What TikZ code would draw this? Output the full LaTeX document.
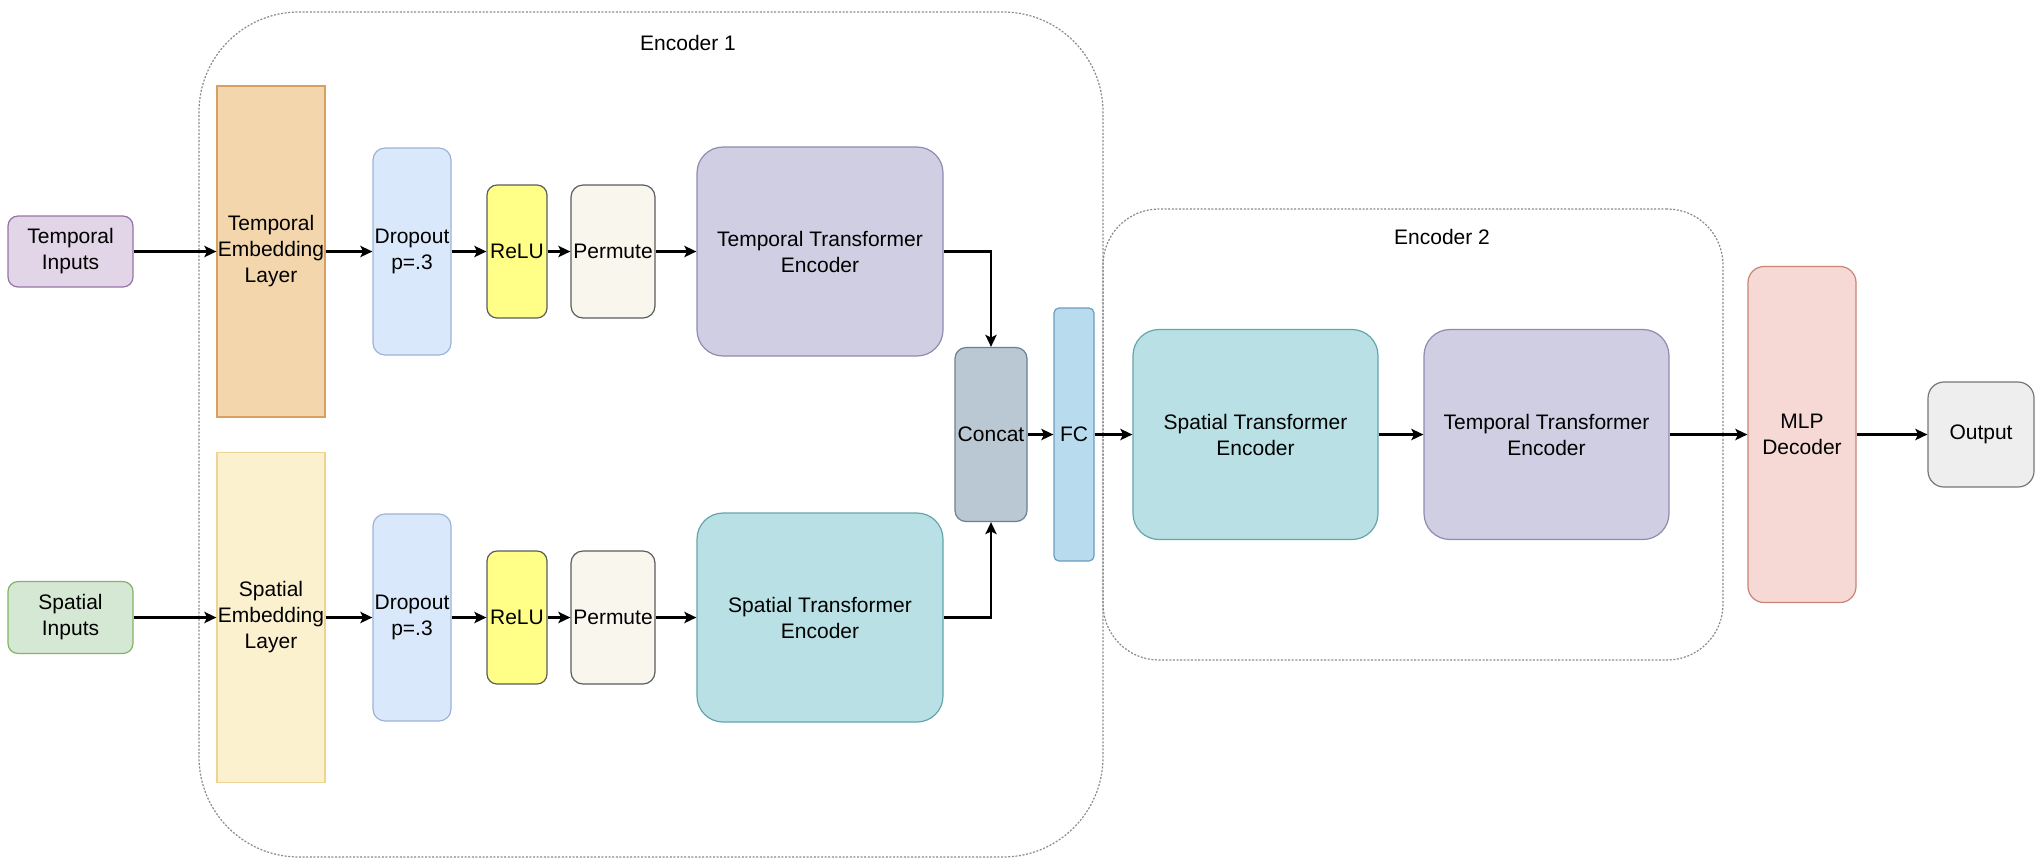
\documentclass[tikz,border=0pt]{standalone}
\usepackage{fontspec}
\setmainfont{Liberation Sans}
\usetikzlibrary{arrows.meta}
\definecolor{tinF}{HTML}{E1D5E7}\definecolor{tinD}{HTML}{9673A6}
\definecolor{sinF}{HTML}{D5E8D4}\definecolor{sinD}{HTML}{82B366}
\definecolor{tembF}{HTML}{F3D6AB}\definecolor{tembD}{HTML}{D5A060}
\definecolor{sembF}{HTML}{FCF1CF}\definecolor{sembD}{HTML}{EDD490}
\definecolor{dropF}{HTML}{DAE8FC}\definecolor{dropD}{HTML}{9DB3D6}
\definecolor{reluF}{HTML}{FFFF88}\definecolor{darkD}{HTML}{5A5C5F}
\definecolor{permF}{HTML}{F9F7ED}
\definecolor{ttfF}{HTML}{D0CEE2}\definecolor{ttfD}{HTML}{8F8BB0}
\definecolor{stfF}{HTML}{B9E1E5}\definecolor{stfD}{HTML}{62A6AC}
\definecolor{catF}{HTML}{BAC8D3}\definecolor{catD}{HTML}{6A8090}
\definecolor{fcF}{HTML}{B8DCEE}\definecolor{fcD}{HTML}{6A9DBD}
\definecolor{mlpF}{HTML}{F6D9D5}\definecolor{mlpD}{HTML}{C98478}
\definecolor{outF}{HTML}{EEEEEE}\definecolor{outD}{HTML}{777777}
\definecolor{contD}{HTML}{8A8A8A}
\tikzset{
  box/.style={draw, line width=0.6pt, inner sep=0pt, align=center,
    font=\fontsize{10.5}{13}\selectfont},
  container/.style={draw=contD, line width=0.6pt, dash pattern=on 1pt off 0.8pt,
    inner sep=0pt},
  lbl/.style={inner sep=0pt, font=\fontsize{10.5}{13}\selectfont},
  arr/.style={line width=1.25pt, -{Stealth[length=6pt,width=5.6pt,inset=1.3pt]}},
}
\begin{document}
\begin{tikzpicture}[x=0.5pt,y=-0.5pt]
\useasboundingbox (0,0) rectangle (2039,864);
% containers
\node[container, rounded corners=50pt, minimum width=452pt, minimum height=422.5pt] (enc1) at (651,434.5) {};
\node[container, rounded corners=28pt, minimum width=310pt, minimum height=225.5pt] (enc2) at (1413,434.5) {};
\node[lbl] (enc1l) at (688,43) {Encoder 1};
\node[lbl] (enc2l) at (1442,237) {Encoder 2};
% inputs
\node[box, fill=tinF, draw=tinD, rounded corners=5pt, minimum width=62.5pt, minimum height=35.5pt] (tin) at (70.5,251.5) {Temporal\\Inputs};
\node[box, fill=sinF, draw=sinD, rounded corners=5pt, minimum width=62.5pt, minimum height=36pt] (sin) at (70.5,617.5) {Spatial\\Inputs};
% embeddings
\node[box, fill=tembF, draw=tembD, minimum width=54pt, minimum height=165.5pt] (temb) at (271,251.5) {Temporal\\Embedding\\Layer};
\node[box, fill=sembF, draw=sembD, minimum width=54pt, minimum height=165pt] (semb) at (271,617.5) {Spatial\\Embedding\\Layer};
% dropout
\node[box, fill=dropF, draw=dropD, rounded corners=6pt, minimum width=39pt, minimum height=103.5pt] (tdrop) at (412,251.5) {Dropout\\p=.3};
\node[box, fill=dropF, draw=dropD, rounded corners=6pt, minimum width=39pt, minimum height=103.5pt] (sdrop) at (412,617.5) {Dropout\\p=.3};
% relu
\node[box, fill=reluF, draw=darkD, rounded corners=5pt, minimum width=30pt, minimum height=66.5pt] (trelu) at (517,251.5) {ReLU};
\node[box, fill=reluF, draw=darkD, rounded corners=5pt, minimum width=30pt, minimum height=66.5pt] (srelu) at (517,617.5) {ReLU};
% permute
\node[box, fill=permF, draw=darkD, rounded corners=6pt, minimum width=42pt, minimum height=66.5pt] (tperm) at (613,251.5) {Permute};
\node[box, fill=permF, draw=darkD, rounded corners=6pt, minimum width=42pt, minimum height=66.5pt] (sperm) at (613,617.5) {Permute};
% transformer encoders (encoder 1)
\node[box, fill=ttfF, draw=ttfD, rounded corners=13pt, minimum width=123pt, minimum height=104.5pt] (ttf) at (820,251.5) {Temporal Transformer\\Encoder};
\node[box, fill=stfF, draw=stfD, rounded corners=13pt, minimum width=123pt, minimum height=104.5pt] (stf) at (820,617.5) {Spatial Transformer\\Encoder};
% concat, fc
\node[box, fill=catF, draw=catD, rounded corners=5.5pt, minimum width=36pt, minimum height=87pt] (concat) at (991,434.5) {Concat};
\node[box, fill=fcF, draw=fcD, rounded corners=2.5pt, minimum width=20pt, minimum height=126.5pt] (fc) at (1074,434.5) {FC};
% encoder 2
\node[box, fill=stfF, draw=stfD, rounded corners=13pt, minimum width=122.5pt, minimum height=105pt] (stf2) at (1255.5,434.5) {Spatial Transformer\\Encoder};
\node[box, fill=ttfF, draw=ttfD, rounded corners=13pt, minimum width=122.5pt, minimum height=105pt] (ttf2) at (1546.5,434.5) {Temporal Transformer\\Encoder};
% decoder and output
\node[box, fill=mlpF, draw=mlpD, rounded corners=8pt, minimum width=54pt, minimum height=168pt] (mlp) at (1802,434.5) {MLP\\Decoder};
\node[box, fill=outF, draw=outD, rounded corners=8pt, minimum width=53pt, minimum height=52.5pt] (out) at (1981,434.5) {Output};
% connectors
\draw[arr] (tin) -- (temb);
\draw[arr] (temb) -- (tdrop);
\draw[arr] (tdrop) -- (trelu);
\draw[arr] (trelu) -- (tperm);
\draw[arr] (tperm) -- (ttf);
\draw[arr] (sin) -- (semb);
\draw[arr] (semb) -- (sdrop);
\draw[arr] (sdrop) -- (srelu);
\draw[arr] (srelu) -- (sperm);
\draw[arr] (sperm) -- (stf);
\draw[arr] (ttf.east) -| (concat.north);
\draw[arr] (stf.east) -| (concat.south);
\draw[arr] (concat) -- (fc);
\draw[arr] (fc) -- (stf2);
\draw[arr] (stf2) -- (ttf2);
\draw[arr] (ttf2) -- (mlp);
\draw[arr] (mlp) -- (out);
\end{tikzpicture}
\end{document}
